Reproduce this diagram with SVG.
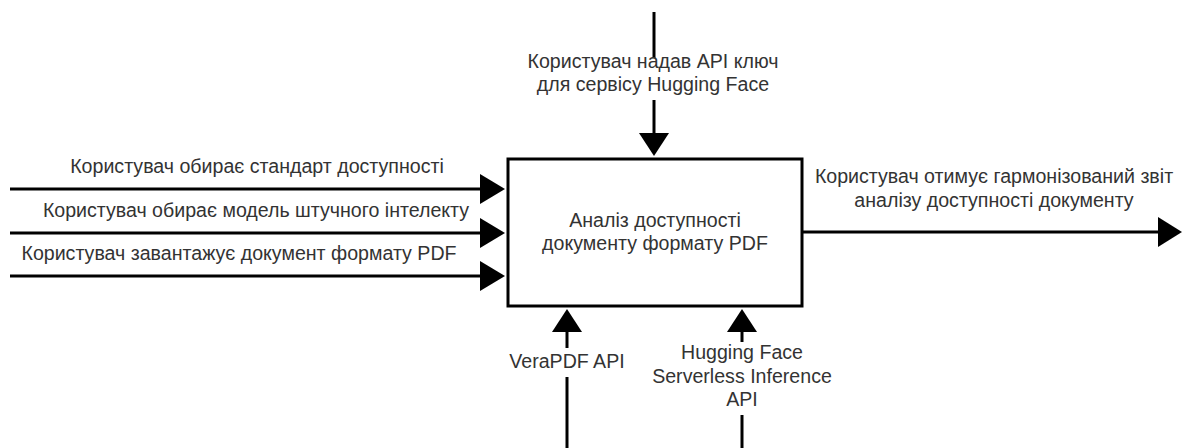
<svg xmlns="http://www.w3.org/2000/svg" width="1184" height="448" viewBox="0 0 1184 448">
  <style>
    .lbl { font-family: "Liberation Sans", Arial, sans-serif; font-size: 19.6px; fill: #333333; text-anchor: middle; }
    .edge { stroke: #000000; stroke-width: 3; fill: none; }
    .head { fill: #000000; stroke: none; }
    .box { fill: #ffffff; stroke: #000000; stroke-width: 3; }
  </style>
  <rect width="1184" height="448" fill="#ffffff"/>

  <g id="connectors">
    <!-- control from above -->
    <line class="edge" x1="654" y1="12" x2="654" y2="58"/>
    <line class="edge" x1="654" y1="100" x2="654" y2="135"/>
    <polygon class="head" points="639,133 669,133 654,156"/>

    <!-- inputs from the left -->
    <line class="edge" x1="10" y1="189" x2="482" y2="189"/>
    <polygon class="head" points="480,174 505,189 480,204"/>
    <line class="edge" x1="10" y1="233" x2="482" y2="233"/>
    <polygon class="head" points="480,218 505,233 480,248"/>
    <line class="edge" x1="10" y1="276" x2="482" y2="276"/>
    <polygon class="head" points="480,261 505,276 480,291"/>

    <!-- output to the right -->
    <line class="edge" x1="802" y1="232" x2="1160" y2="232"/>
    <polygon class="head" points="1158,217 1182,232 1158,247"/>

    <!-- mechanisms from below -->
    <line class="edge" x1="567" y1="448" x2="567" y2="377"/>
    <line class="edge" x1="567" y1="348" x2="567" y2="330"/>
    <polygon class="head" points="552,332 582,332 567,309"/>
    <line class="edge" x1="742" y1="448" x2="742" y2="415"/>
    <line class="edge" x1="742" y1="342" x2="742" y2="330"/>
    <polygon class="head" points="727,332 757,332 742,309"/>
  </g>

  <g id="process">
    <rect class="box" x="508" y="159" width="294" height="147"/>
    <text class="lbl" x="655" y="227">Аналіз доступності</text>
    <text class="lbl" x="655" y="250">документу формату PDF</text>
  </g>

  <g id="label-api-key">
    <text class="lbl" x="653" y="68">Користувач надав API ключ</text>
    <text class="lbl" x="653" y="91">для сервісу Hugging Face</text>
  </g>

  <g id="label-standard">
    <text class="lbl" x="257" y="173">Користувач обирає стандарт доступності</text>
  </g>
  <g id="label-model">
    <text class="lbl" x="256" y="217">Користувач обирає модель штучного інтелекту</text>
  </g>
  <g id="label-upload">
    <text class="lbl" x="239" y="260">Користувач завантажує документ формату PDF</text>
  </g>

  <g id="label-report">
    <text class="lbl" x="994" y="183">Користувач отимує гармонізований звіт</text>
    <text class="lbl" x="994" y="207">аналізу доступності документу</text>
  </g>

  <g id="label-verapdf">
    <text class="lbl" x="567" y="368">VeraPDF API</text>
  </g>

  <g id="label-hf-inference">
    <text class="lbl" x="742" y="359">Hugging Face</text>
    <text class="lbl" x="742" y="383">Serverless Inference</text>
    <text class="lbl" x="742" y="406">API</text>
  </g>
</svg>
